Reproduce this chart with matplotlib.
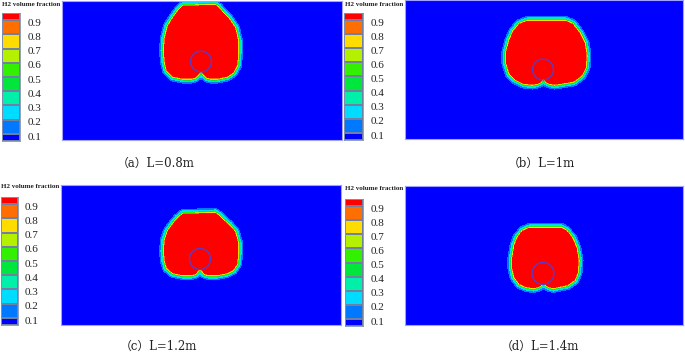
import matplotlib
matplotlib.use("Agg")
import matplotlib.pyplot as plt
import numpy as np
from matplotlib.colors import ListedColormap, BoundaryNorm
from matplotlib.path import Path
from matplotlib.patches import Circle
from matplotlib.transforms import blended_transform_factory

W, H = 685, 353

# contour levels and colours of the legend (bottom to top)
levels = [0.1, 0.2, 0.3, 0.4, 0.5, 0.6, 0.7, 0.8, 0.9]
tick_labels = ["0.1", "0.2", "0.3", "0.4", "0.5", "0.6", "0.7", "0.8", "0.9"]
band_colors = ["#0000ff", "#0078ff", "#00dcff", "#00f0aa", "#00e63c",
               "#32f000", "#b4f000", "#ffdc00", "#ff6e00", "#ff0000"]
cbar_min, cbar_max = 0.05, 0.95
legend_title = "H2 volume fraction"

captions = ["（a）L=0.8m", "（b）L=1m", "（c）L=1.2m", "（d）L=1.4m"]

# domain is 280 x 140 units, bubble outlines (red region)
outline_a = [(121, 135), (116, 130), (111, 123), (106, 115), (103, 103), (102, 90),
             (103, 78), (105, 70), (111, 64), (121, 62), (129, 62), (133, 63),
             (136, 65.5), (139, 70), (142, 65.5), (145, 63), (149, 62),
             (155, 62), (165, 64), (171, 68), (175, 75), (176, 87), (176, 100),
             (173, 113), (167, 122), (161, 128), (156, 134), (153, 136)]
outline_b = [(123, 119), (115, 116), (109, 109), (105, 100), (102, 88), (102, 76),
             (105, 66), (111, 60), (119, 56), (128, 55), (133, 56), (136, 57.5),
             (139, 61), (142, 57.5), (145, 56), (150, 55), (157, 56),
             (169, 58), (177, 64), (181, 72), (182, 84), (180, 97), (175, 107),
             (168, 116), (161, 119)]
outline_c = [(122, 111), (117, 107), (112, 101), (107, 94), (104, 85), (103, 74),
             (104, 64), (106, 57), (112, 52), (122, 50), (130, 50), (134, 51),
             (136, 53), (139, 57), (142, 53), (144, 51), (148, 50),
             (156, 50), (166, 52), (172, 55), (176, 61), (177, 71), (177, 82),
             (174, 93), (168, 100), (162, 105), (157, 110), (154, 112)]
outline_d = [(125, 98), (118, 95), (113, 88), (110, 80), (108, 68), (108, 57),
             (110, 48), (115, 41), (122, 38), (129, 37), (133, 38), (136, 39.5),
             (139, 42), (142, 39.5), (145, 38), (149, 37), (153, 38),
             (163, 40), (170, 45), (173, 53), (174, 65), (172, 77), (168, 87),
             (162, 95), (157, 98)]
outlines = [outline_a, outline_b, outline_c, outline_d]

# the injector circle: centre x, centre y, radius
circles = [(139, 79, 10.5), (139, 70, 10.5), (139, 66, 10.5), (139, 52, 11)]

# panel boxes in pixels (x0, y0, x1, y1)
field_boxes = [(62, 1, 342, 140), (405, 0, 683, 139),
               (61, 185, 341, 325), (405, 186, 683, 325)]
cbar_boxes = [(2, 13, 20, 141), (344, 13, 363, 140),
              (1, 197, 18, 325), (345, 199, 363, 326)]
title_pos = [(2, 4), (345, 4), (1, 187), (345, 189)]
caption_pos = [(156, 163), (541, 163), (158, 346), (540, 346)]


def px_box(x0, y0, x1, y1):
    return [x0 / W, 1 - y1 / H, (x1 - x0) / W, (y1 - y0) / H]


def blur(a, sigma):
    n = int(3 * sigma) + 1
    k = np.exp(-0.5 * (np.arange(-n, n + 1) / sigma) ** 2)
    k /= k.sum()
    a = np.apply_along_axis(lambda r: np.convolve(r, k, "same"), 1, a)
    a = np.apply_along_axis(lambda c: np.convolve(c, k, "same"), 0, a)
    return a


def bubble_field(outline, glow=2.2):
    # 2 grid cells per unit
    pts = np.array(outline, float)
    xs = np.linspace(0, 280, 561)
    ys = np.linspace(0, 140, 281)
    X, Y = np.meshgrid(xs, ys)
    P = np.column_stack([X.ravel(), Y.ravel()])
    ind = Path(pts).contains_points(P).reshape(X.shape) * 1.0
    # distance to the outline for the thin coloured rim
    d = np.full(len(P), np.inf)
    for p0, p1 in zip(pts, np.roll(pts, -1, axis=0)):
        seg = p1 - p0
        t = np.clip(((P - p0) @ seg) / (seg @ seg), 0, 1)
        d = np.minimum(d, np.hypot(*(P - p0 - t[:, None] * seg).T))
    d = d.reshape(X.shape)
    core = blur(ind, 2.0) >= 0.5
    return np.where(core, 1.0, np.minimum(0.89, np.exp(-np.where(ind > 0, 0, d) / glow)))


cmap = ListedColormap(band_colors)
norm = BoundaryNorm([0.0] + levels + [1.0], cmap.N)

fig = plt.figure(figsize=(W / 100, H / 100), dpi=100)
fig.patch.set_facecolor("white")

for i in range(4):
    # flooded contour field
    ax = fig.add_axes(px_box(*field_boxes[i]))
    f = bubble_field(outlines[i])
    ax.imshow(f, extent=[0, 280, 0, 140], origin="lower", cmap=cmap, norm=norm,
              interpolation="nearest", aspect="auto")
    cx, cy, r = circles[i]
    ax.add_patch(Circle((cx, cy), r, fill=False, edgecolor="#5a3cc8", lw=1.0))
    ax.set_xlim(0, 280)
    ax.set_ylim(0, 140)
    ax.set_xticks([])
    ax.set_yticks([])
    for s in ax.spines.values():
        s.set_color("#a0a0ff")
        s.set_linewidth(0.8)

    # legend bar
    cax = fig.add_axes(px_box(*cbar_boxes[i]))
    yb = np.array([cbar_min] + levels + [cbar_max])
    cax.pcolormesh([0, 1], yb, np.arange(len(band_colors))[:, None],
                   cmap=cmap, norm=plt.Normalize(-0.5, len(band_colors) - 0.5),
                   edgecolors="#7080a0", linewidth=0.3)
    cax.set_xlim(0, 1)
    cax.set_ylim(cbar_min, cbar_max)
    cax.set_xticks([])
    cax.set_yticks([])
    for s in cax.spines.values():
        s.set_color("#8090b0")
        s.set_linewidth(0.6)
    tr = blended_transform_factory(cax.transAxes, cax.transData)
    for lv, lab in zip(levels, tick_labels):
        cax.text(1.4, lv - 0.022, lab, transform=tr, ha="left", va="center",
                 fontsize=8, family="Liberation Serif", color="#222222")

    tx, ty = title_pos[i]
    fig.text(tx / W, 1 - ty / H, legend_title, ha="left", va="center",
             fontsize=5, family="Liberation Serif", weight="bold", color="#222222")

    capx, capy = caption_pos[i]
    fig.text(capx / W, 1 - capy / H, captions[i], ha="center", va="center",
             fontsize=8.5, family=["DejaVu Serif", "Noto Sans CJK SC"],
             color="#222222")

fig.savefig("out.png", dpi=100, facecolor="white")
